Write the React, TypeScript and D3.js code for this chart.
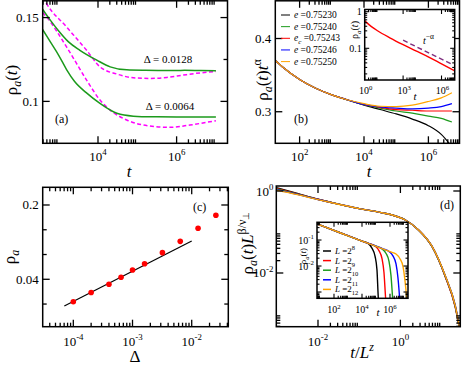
import React from "react";
import * as d3 from "d3";

const FONT = "'Liberation Serif','Times New Roman',Times,serif";
const GREEN = "#1c9a1c";
const MAGENTA = "#ff00ff";
const ORANGE = "#ffa500";
const BLUE = "#0000ff";
const RED = "#ff0000";
const BLACK = "#000000";
const PURPLE = "#7f2f7f";

// ---------------- panel (a): log10(t) and rho_a(t)
const aG128LogT = [2.59, 2.8, 3.0, 3.25, 3.54, 3.97, 4.31, 4.73, 5.2, 5.7, 6.2, 6.6, 7.0];
const aG128Rho = [0.155, 0.148, 0.142, 0.1355, 0.1305, 0.1246, 0.1206, 0.1188, 0.1185, 0.1184, 0.1185, 0.1184, 0.1183];
const aM128LogT = [2.6, 2.69, 3.2, 3.71, 4.05, 4.48, 4.9, 5.32, 5.75, 6.17, 6.6, 7.0];
const aM128Rho = [0.162, 0.1583, 0.1444, 0.1305, 0.1206, 0.1163, 0.1141, 0.1137, 0.1143, 0.1157, 0.117, 0.1178];
const aG64LogT = [2.59, 2.8, 3.0, 3.2, 3.4, 3.7, 4.05, 4.48, 4.9, 5.4, 6.0, 6.5, 7.0];
const aG64Rho = [0.1429, 0.135, 0.1275, 0.119, 0.112, 0.1052, 0.0988, 0.0929, 0.0912, 0.0908, 0.0907, 0.0907, 0.0907];
const aM64LogT = [2.59, 2.69, 3.2, 3.71, 4.05, 4.31, 4.73, 5.32, 5.83, 6.34, 7.0];
const aM64Rho = [0.153, 0.1504, 0.1325, 0.1127, 0.1008, 0.0948, 0.0889, 0.0853, 0.0845, 0.0859, 0.0885];
const aLabels = ["\u0394 = 0.0128", "\u0394 = 0.0064"];

// ---------------- panel (b): log10(t) and rho_a(t) t^alpha
const bLogT = [1.245, 1.5, 2, 2.5, 3, 3.5, 4, 4.5, 5, 5.5, 6, 6.4, 6.73];
const bBlack = [0.37, 0.36, 0.344, 0.332, 0.323, 0.316, 0.309, 0.303, 0.297, 0.29, 0.281, 0.269, 0.252];
const bGreen = [0.37, 0.36, 0.344, 0.332, 0.323, 0.316, 0.3095, 0.305, 0.301, 0.298, 0.294, 0.291, 0.286];
const bRed = [0.37, 0.36, 0.344, 0.332, 0.323, 0.316, 0.31, 0.306, 0.303, 0.302, 0.301, 0.301, 0.301];
const bBlue = [0.37, 0.36, 0.344, 0.332, 0.323, 0.316, 0.31, 0.3065, 0.305, 0.304, 0.305, 0.307, 0.311];
const bOrange = [0.37, 0.36, 0.344, 0.332, 0.323, 0.316, 0.311, 0.3075, 0.307, 0.309, 0.314, 0.319, 0.326];
const bLegend = ["0.75230", "0.75240", "0.75243", "0.75246", "0.75250"];
// inset (b)
const biLogT = [0, 0.5, 1, 2, 3, 4, 5, 6, 7];
const biRho = [0.562, 0.398, 0.302, 0.191, 0.126, 0.0851, 0.0575, 0.0375, 0.0245];
const biPowLogT = [3, 6.9];
const biPowRho = [0.166, 0.0355];

// ---------------- panel (c)
const cDelta = [1e-4, 2e-4, 4e-4, 6.4e-4, 1e-3, 1.6e-3, 3.2e-3, 6.4e-3, 1.28e-2, 2.56e-2];
const cRho = [0.0246, 0.03, 0.0359, 0.0418, 0.0489, 0.056, 0.0712, 0.091, 0.1208, 0.16];
const cFitDelta = [7.05e-5, 1e-2];
const cFitRho = [0.0224, 0.0917];

// ---------------- panel (d): log10(t/L^z), log10(rho L^{beta/nu})
const dLogX = [-3.01, -2.5, -2, -1.5, -1, -0.5, -0.2, 0.12, 0.44, 0.77, 1.09, 1.33, 1.46];
const dBlack = [0.08, -0.06, -0.2, -0.32, -0.43, -0.52, -0.585, -0.707, -0.951, -1.359, -2.09, -2.82, -3.5];
const dRed = [0.065, -0.07, -0.2, -0.32, -0.43, -0.52, -0.585, -0.707, -0.951, -1.359, -2.09, -2.82, -3.5];
const dGreen = [0.05, -0.077, -0.203, -0.32, -0.43, -0.52, -0.585, -0.707, -0.951, -1.355, -2.08, -2.8, -3.48];
const dBlue = [0.035, -0.083, -0.206, -0.32, -0.43, -0.52, -0.585, -0.707, -0.95, -1.35, -2.07, -2.78, -3.45];
const dOrange = [0.02, -0.09, -0.21, -0.322, -0.43, -0.52, -0.585, -0.707, -0.95, -1.35, -2.07, -2.79, -3.46];
// inset (d): log10 t, log10 rho
const diBlackT = [0.79, 2.43, 4.0, 4.43, 4.71, 4.93, 5.07, 5.16, 5.2];
const diBlackR = [-0.385, -0.72, -1.04, -1.13, -1.31, -1.62, -2.15, -3.18, -3.5];
const diRedT = [0.79, 2.43, 4.0, 4.5, 4.93, 5.21, 5.43, 5.57, 5.68, 5.72];
const diRedR = [-0.385, -0.72, -1.04, -1.14, -1.23, -1.41, -1.72, -2.25, -3.18, -3.5];
const diGreenT = [0.79, 2.43, 4.0, 5.0, 5.43, 5.71, 5.93, 6.07, 6.18, 6.22];
const diGreenR = [-0.385, -0.72, -1.04, -1.24, -1.34, -1.51, -1.82, -2.36, -3.18, -3.5];
const diBlueT = [0.79, 2.43, 4.0, 5.5, 5.93, 6.21, 6.43, 6.57, 6.68, 6.72];
const diBlueR = [-0.385, -0.72, -1.04, -1.34, -1.44, -1.61, -1.92, -2.46, -3.18, -3.5];
const diOrangeT = [0.79, 2.43, 4.0, 6.0, 6.43, 6.71, 6.93, 7.07, 7.18, 7.22];
const diOrangeR = [-0.385, -0.72, -1.04, -1.45, -1.54, -1.72, -2.02, -2.56, -3.18, -3.5];
const dLegendExp = ["8", "9", "10", "11", "12"];

type Box = { l: number; t: number; r: number; b: number };

function logTicks(lo: number, hi: number, step: number) {
  const major: number[] = [];
  const minor: number[] = [];
  const a = Math.log10(lo);
  const b = Math.log10(hi);
  const start = Math.floor(a / step) * step;
  for (let e = start; e <= b + 1e-9; e += step) {
    const v = Math.pow(10, e);
    if (e >= a - 1e-9) major.push(v);
    for (let k = 2; k <= 9; k++) {
      const m = k * v;
      if (m > lo && m < hi) minor.push(m);
    }
  }
  return { major, minor };
}

function P10(props: { x: number; y: number; e: string; fs: number; anchor?: string }) {
  const { x, y, e, fs } = props;
  const anchor = props.anchor || "middle";
  return (
    <text x={x} y={y} fontSize={fs} textAnchor={anchor}>
      10
      <tspan dy={-fs * 0.45} fontSize={fs * 0.68}>
        {e}
      </tspan>
    </text>
  );
}

function mk(xs: number[], ys: number[], xlog: boolean, ylog: boolean): [number, number][] {
  return xs.map((v, i) => [xlog ? Math.pow(10, v) : v, ylog ? Math.pow(10, ys[i]) : ys[i]]);
}

// Ticks drawn inward on all four sides
function AxisTicks(props: {
  box: Box;
  sx: any;
  sy: any;
  xMaj: number[];
  xMin: number[];
  yMaj: number[];
  yMin: number[];
  big: number;
  small: number;
  sw: number;
}) {
  const { box, sx, sy, xMaj, xMin, yMaj, yMin, big, small, sw } = props;
  const xs = [...xMaj.map((v) => ({ p: sx(v) as number, L: big })), ...xMin.map((v) => ({ p: sx(v) as number, L: small }))];
  const ys = [...yMaj.map((v) => ({ p: sy(v) as number, L: big })), ...yMin.map((v) => ({ p: sy(v) as number, L: small }))];
  return (
    <g stroke="#000" strokeWidth={sw} fill="none">
      {xs.map((o, i) => (
        <line key={"xb" + i} x1={o.p} x2={o.p} y1={box.b} y2={box.b - o.L} stroke="#000" />
      ))}
      {xs.map((o, i) => (
        <line key={"xt" + i} x1={o.p} x2={o.p} y1={box.t} y2={box.t + o.L} stroke="#000" />
      ))}
      {ys.map((o, i) => (
        <line key={"yl" + i} x1={box.l} x2={box.l + o.L} y1={o.p} y2={o.p} stroke="#000" />
      ))}
      {ys.map((o, i) => (
        <line key={"yr" + i} x1={box.r} x2={box.r - o.L} y1={o.p} y2={o.p} stroke="#000" />
      ))}
      <rect x={box.l} y={box.t} width={box.r - box.l} height={box.b - box.t} strokeWidth={1.5} />
    </g>
  );
}

export default function App() {
  // ---- boxes
  const A: Box = { l: 42.7, t: 0.8, r: 227.5, b: 143.3 };
  const B: Box = { l: 275.3, t: 0.8, r: 459.5, b: 143.3 };
  const BI: Box = { l: 364.7, t: 9.5, r: 454.7, b: 80 };
  const C: Box = { l: 42.7, t: 187.3, r: 228.3, b: 326.7 };
  const D: Box = { l: 276.3, t: 186, r: 460.3, b: 326.7 };
  const DI: Box = { l: 317, t: 222.3, r: 408, b: 298.3 };

  // ---- scales
  const ax = d3.scaleLog().domain([10 ** 2.593, 10 ** 7.295]).range([A.l, A.r]);
  const ay = d3.scaleLinear().domain([0.075, 0.16]).range([A.b, A.t]);
  const bx = d3.scaleLog().domain([10 ** 1.245, 10 ** 6.966]).range([B.l, B.r]);
  const by = d3.scaleLinear().domain([0.2569, 0.4515]).range([B.b, B.t]);
  const bix = d3.scaleLog().domain([1, 10 ** 7.03]).range([BI.l, BI.r]);
  const biy = d3.scaleLog().domain([10 ** -1.866, 10 ** 0.06]).range([BI.b, BI.t]);
  const cx = d3.scaleLog().domain([10 ** -4.517, 10 ** -1.382]).range([C.l, C.r]);
  const cy = d3.scaleLog().domain([0.01432, 0.2934]).range([C.b, C.t]);
  const dx = d3.scaleLog().domain([10 ** -3.012, 10 ** 1.454]).range([D.l, D.r]);
  const dy = d3.scaleLog().domain([10 ** -3.31, 10 ** 0.122]).range([D.b, D.t]);
  const dix = d3.scaleLog().domain([10 ** 0.786, 10 ** 7.286]).range([DI.l, DI.r]);
  const diy = d3.scaleLog().domain([10 ** -3.242, 10 ** -0.319]).range([DI.b, DI.t]);

  const lineOf = (sx: any, sy: any) =>
    d3
      .line<[number, number]>()
      .x((d) => sx(d[0]))
      .y((d) => sy(d[1]))
      .curve(d3.curveMonotoneX);

  const aLine = lineOf(ax, ay);
  const bLine = lineOf(bx, by);
  const biLine = lineOf(bix, biy);
  const cLine = lineOf(cx, cy);
  const dLine = lineOf(dx, dy);
  const diLine = lineOf(dix, diy);

  // ---- ticks
  const aXT = logTicks(10 ** 2.593, 10 ** 7.295, 2);
  const bXT = logTicks(10 ** 1.245, 10 ** 6.966, 2);
  const biXT = logTicks(1, 10 ** 7.03, 3);
  const biYT = logTicks(10 ** -1.866, 10 ** 0.06, 1);
  const cXT = logTicks(10 ** -4.517, 10 ** -1.382, 1);
  const cYMaj = [0.2, 0.04];
  const cYMin = [0.2 * Math.pow(5, -1 / 3), 0.2 * Math.pow(5, -2 / 3), 0.04 * Math.pow(5, -1 / 3)];
  const dXT = logTicks(10 ** -3.012, 10 ** 1.454, 2);
  const dYT = logTicks(10 ** -3.31, 10 ** 0.122, 2);
  const diXT = logTicks(10 ** 0.786, 10 ** 7.286, 2);
  const diYT = logTicks(10 ** -3.242, 10 ** -0.319, 1);

  const bSeries = [
    { v: bBlack, c: BLACK },
    { v: bGreen, c: GREEN },
    { v: bRed, c: RED },
    { v: bBlue, c: BLUE },
    { v: bOrange, c: ORANGE },
  ];
  const bLegendColors = [BLACK, GREEN, RED, BLUE, ORANGE];
  const dSeries = [
    { v: dBlack, c: BLACK },
    { v: dRed, c: RED },
    { v: dGreen, c: GREEN },
    { v: dBlue, c: BLUE },
    { v: dOrange, c: ORANGE },
  ];
  const diSeries = [
    { t: diBlackT, r: diBlackR, c: BLACK },
    { t: diRedT, r: diRedR, c: RED },
    { t: diGreenT, r: diGreenR, c: GREEN },
    { t: diBlueT, r: diBlueR, c: BLUE },
    { t: diOrangeT, r: diOrangeR, c: ORANGE },
  ];

  const fsT = 13;
  const fsTitle = 17;
  const fsI = 10;

  return (
    <svg
      width={463}
      height={365}
      style={{ position: "absolute", left: 0, top: 0, background: "#fff" }}
      fontFamily={FONT}
    >
      <defs>
        <clipPath id="ca">
          <rect x={A.l} y={A.t} width={A.r - A.l} height={A.b - A.t} />
        </clipPath>
        <clipPath id="cb">
          <rect x={B.l} y={B.t} width={B.r - B.l} height={B.b - B.t} />
        </clipPath>
        <clipPath id="cbi">
          <rect x={BI.l} y={BI.t} width={BI.r - BI.l} height={BI.b - BI.t} />
        </clipPath>
        <clipPath id="cd">
          <rect x={D.l} y={D.t} width={D.r - D.l} height={D.b - D.t} />
        </clipPath>
        <clipPath id="cdi">
          <rect x={DI.l} y={DI.t} width={DI.r - DI.l} height={DI.b - DI.t} />
        </clipPath>
      </defs>
      <rect x={0} y={0} width={463} height={365} fill="#fff" />

      {/* ================= panel (a) ================= */}
      <g clipPath="url(#ca)" fill="none">
        <path d={aLine(mk(aM128LogT, aM128Rho, true, false)) || ""} stroke={MAGENTA} strokeWidth={1.5} strokeDasharray="4,2.5" />
        <path d={aLine(mk(aM64LogT, aM64Rho, true, false)) || ""} stroke={MAGENTA} strokeWidth={1.5} strokeDasharray="4,2.5" />
        <path d={aLine(mk(aG128LogT, aG128Rho, true, false)) || ""} stroke={GREEN} strokeWidth={1.5} />
        <path d={aLine(mk(aG64LogT, aG64Rho, true, false)) || ""} stroke={GREEN} strokeWidth={1.5} />
      </g>
      <AxisTicks box={A} sx={ax} sy={ay} xMaj={aXT.major} xMin={aXT.minor} yMaj={[0.1, 0.15]} yMin={[0.125]} big={7} small={4} sw={1.3} />
      <text x={A.l - 4} y={ay(0.15) + 4.5} fontSize={fsT} textAnchor="end">0.15</text>
      <text x={A.l - 4} y={ay(0.1) + 4.5} fontSize={fsT} textAnchor="end">0.1</text>
      {aXT.major.map((v) => (
        <P10 key={v} x={ax(v)} y={A.b + 18} e={String(Math.round(Math.log10(v)))} fs={fsT} />
      ))}
      <text x={129} y={177} fontSize={fsTitle} fontStyle="italic" textAnchor="middle">t</text>
      <text transform="translate(17,80) rotate(-90)" fontSize={fsTitle} textAnchor="middle">
        ρ<tspan dy={4} fontSize={12} fontStyle="italic">a</tspan>
        <tspan dy={-4}>(</tspan>
        <tspan fontStyle="italic">t</tspan>)
      </text>
      <text x={168} y={63} fontSize={11} textAnchor="middle">{aLabels[0]}</text>
      <text x={170} y={110} fontSize={11} textAnchor="middle">{aLabels[1]}</text>
      <text x={55} y={123} fontSize={12}>(a)</text>

      {/* ================= panel (b) ================= */}
      <g clipPath="url(#cb)" fill="none">
        {bSeries.map((s, i) => (
          <path key={i} d={bLine(mk(bLogT, s.v, true, false)) || ""} stroke={s.c} strokeWidth={1.2} />
        ))}
      </g>
      <AxisTicks box={B} sx={bx} sy={by} xMaj={bXT.major} xMin={bXT.minor} yMaj={[0.3, 0.4]} yMin={[]} big={7} small={4} sw={1.3} />
      <text x={B.l - 4} y={by(0.4) + 4.5} fontSize={fsT} textAnchor="end">0.4</text>
      <text x={B.l - 4} y={by(0.3) + 4.5} fontSize={fsT} textAnchor="end">0.3</text>
      {bXT.major.map((v) => (
        <P10 key={v} x={bx(v)} y={B.b + 18} e={String(Math.round(Math.log10(v)))} fs={fsT} />
      ))}
      <text x={369} y={177} fontSize={fsTitle} fontStyle="italic" textAnchor="middle">t</text>
      <text transform="translate(268,80) rotate(-90)" fontSize={fsTitle} textAnchor="middle">
        ρ<tspan dy={4} fontSize={12} fontStyle="italic">a</tspan>
        <tspan dy={-4}>(</tspan>
        <tspan fontStyle="italic">t</tspan>)<tspan fontStyle="italic">t</tspan>
        <tspan dy={-7} fontSize={12}>α</tspan>
      </text>
      <text x={294} y={123} fontSize={12}>(b)</text>
      {bLegend.map((lab, i) => {
        const yy = 15 + 11.65 * i;
        return (
          <g key={lab}>
            <line x1={281} x2={290} y1={yy} y2={yy} stroke={bLegendColors[i]} strokeWidth={1} />
            <text x={294} y={yy + 3} fontSize={9.5}>
              <tspan fontStyle="italic">e</tspan>
              {i === 2 ? (
                <>
                  <tspan dy={2.5} fontSize={7} fontStyle="italic">c</tspan>
                  <tspan dy={-2.5}> =</tspan>
                </>
              ) : (
                <tspan> =</tspan>
              )}
              <tspan>{lab}</tspan>
            </text>
          </g>
        );
      })}

      {/* inset (b) */}
      <rect x={BI.l} y={BI.t} width={BI.r - BI.l} height={BI.b - BI.t} fill="#fff" />
      <g clipPath="url(#cbi)" fill="none">
        <path d={biLine(mk(biLogT, biRho, true, false)) || ""} stroke={RED} strokeWidth={1.4} />
        <path d={biLine(mk(biPowLogT, biPowRho, true, false)) || ""} stroke={PURPLE} strokeWidth={1.4} strokeDasharray="5,3" />
      </g>
      <AxisTicks box={BI} sx={bix} sy={biy} xMaj={biXT.major} xMin={biXT.minor} yMaj={biYT.major} yMin={biYT.minor} big={4.5} small={2.5} sw={1.1} />
      <text x={BI.l - 3} y={biy(1) + 3.5} fontSize={fsI} textAnchor="end">1</text>
      <text x={BI.l - 3} y={biy(0.1) + 3.5} fontSize={fsI} textAnchor="end">0.1</text>
      {biXT.major.map((v) => (
        <P10 key={v} x={bix(v) + 1} y={BI.b + 14} e={String(Math.round(Math.log10(v)))} fs={fsI} />
      ))}
      <text x={415} y={100} fontSize={11} fontStyle="italic" textAnchor="middle">t</text>
      <text transform="translate(358,30) rotate(-90)" fontSize={10} textAnchor="middle">
        ρ<tspan dy={2.5} fontSize={7} fontStyle="italic">a</tspan>
        <tspan dy={-2.5}>(</tspan>
        <tspan fontStyle="italic">t</tspan>)
      </text>
      <text x={423} y={44} fontSize={10}>
        <tspan fontStyle="italic">t</tspan>
        <tspan dy={-5} fontSize={7.5}>−α</tspan>
      </text>

      {/* ================= panel (c) ================= */}
      <path d={cLine(mk(cFitDelta, cFitRho, false, false)) || ""} stroke="#000" strokeWidth={1.2} fill="none" />
      {cDelta.map((d, i) => (
        <circle key={i} cx={cx(d)} cy={cy(cRho[i])} r={2.8} fill={RED} />
      ))}
      <AxisTicks box={C} sx={cx} sy={cy} xMaj={cXT.major} xMin={cXT.minor} yMaj={cYMaj} yMin={cYMin} big={7} small={4} sw={1.3} />
      <text x={C.l - 4} y={cy(0.2) + 4.5} fontSize={fsT} textAnchor="end">0.2</text>
      <text x={C.l - 4} y={cy(0.04) + 4.5} fontSize={fsT} textAnchor="end">0.04</text>
      {cXT.major.map((v) => (
        <P10 key={v} x={cx(v)} y={C.b + 19} e={String(Math.round(Math.log10(v)))} fs={fsT} />
      ))}
      <text x={135} y={362} fontSize={fsTitle} textAnchor="middle">Δ</text>
      <text transform="translate(15,257) rotate(-90)" fontSize={fsTitle} textAnchor="middle">
        ρ<tspan dy={4} fontSize={12} fontStyle="italic">a</tspan>
      </text>
      <text x={193} y={211} fontSize={12}>(c)</text>

      {/* ================= panel (d) ================= */}
      <g clipPath="url(#cd)" fill="none">
        {dSeries.map((s, i) => (
          <path key={i} d={dLine(mk(dLogX, s.v, true, true)) || ""} stroke={s.c} strokeWidth={1.4} />
        ))}
      </g>
      <AxisTicks box={D} sx={dx} sy={dy} xMaj={dXT.major} xMin={dXT.minor} yMaj={dYT.major} yMin={dYT.minor} big={7} small={4} sw={1.3} />
      {dYT.major.map((v) => (
        <P10 key={v} x={D.l - 3} y={dy(v) + 4.5} e={String(Math.round(Math.log10(v)))} fs={fsT} anchor="end" />
      ))}
      {dXT.major.map((v) => (
        <P10 key={v} x={dx(v)} y={D.b + 19} e={String(Math.round(Math.log10(v)))} fs={fsT} />
      ))}
      <text x={362} y={358} fontSize={fsTitle} textAnchor="middle">
        <tspan fontStyle="italic">t</tspan>/<tspan fontStyle="italic">L</tspan>
        <tspan dy={-7} fontSize={12} fontStyle="italic">z</tspan>
      </text>
      <text transform="translate(253,243) rotate(-90)" fontSize={fsTitle} textAnchor="middle">
        ρ<tspan dy={4} fontSize={12} fontStyle="italic">a</tspan>
        <tspan dy={-4}>(</tspan>
        <tspan fontStyle="italic">t</tspan>)<tspan fontStyle="italic">L</tspan>
        <tspan dy={-7} fontSize={12}>β/ν</tspan>
        <tspan dy={3} fontSize={9}>⊥</tspan>
      </text>
      <text x={440} y={209} fontSize={12}>(d)</text>

      {/* inset (d) */}
      <rect x={DI.l} y={DI.t} width={DI.r - DI.l} height={DI.b - DI.t} fill="#fff" />
      <g clipPath="url(#cdi)" fill="none">
        {diSeries.map((s, i) => (
          <path key={i} d={diLine(mk(s.t, s.r, true, true)) || ""} stroke={s.c} strokeWidth={1.4} />
        ))}
      </g>
      <AxisTicks box={DI} sx={dix} sy={diy} xMaj={diXT.major} xMin={diXT.minor} yMaj={diYT.major} yMin={diYT.minor} big={4.5} small={2.5} sw={1.1} />
      {[0.1, 0.01].map((v) => (
        <P10 key={v} x={DI.l - 3} y={diy(v) + 3.5} e={String(Math.round(Math.log10(v)))} fs={fsI} anchor="end" />
      ))}
      {diXT.major.map((v) => (
        <P10 key={v} x={dix(v)} y={DI.b + 15} e={String(Math.round(Math.log10(v)))} fs={fsI} />
      ))}
      <text x={378} y={316} fontSize={11} fontStyle="italic" textAnchor="middle">t</text>
      <text transform="translate(306,256) rotate(-90)" fontSize={9} textAnchor="middle">
        ρ<tspan dy={2.5} fontSize={6.5} fontStyle="italic">a</tspan>
        <tspan dy={-2.5}>(</tspan>
        <tspan fontStyle="italic">t</tspan>)
      </text>
      {dLegendExp.map((e, i) => {
        const yy = 251 + 9.6 * i;
        const cols = [BLACK, RED, GREEN, BLUE, ORANGE];
        return (
          <g key={e}>
            <line x1={323} x2={331} y1={yy} y2={yy} stroke={cols[i]} strokeWidth={1.5} />
            <text x={335} y={yy + 3} fontSize={9}>
              <tspan fontStyle="italic">L</tspan> =2
              <tspan dy={i === 0 ? -4 : 3} fontSize={6.5}>{e}</tspan>
            </text>
          </g>
        );
      })}
    </svg>
  );
}
